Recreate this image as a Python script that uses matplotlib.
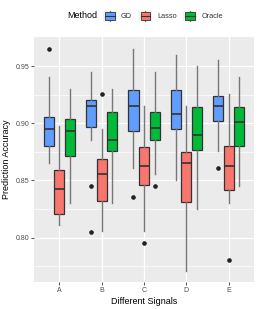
import numpy as np
import matplotlib; matplotlib.use("Agg")
import matplotlib.pyplot as plt
from matplotlib.patches import Rectangle
from matplotlib.lines import Line2D
from matplotlib.legend_handler import HandlerBase

plt.rcParams["font.family"] = ["Liberation Sans", "DejaVu Sans"]

signals = ["A", "B", "C", "D", "E"]
methods = ["GD", "Lasso", "Oracle"]
COLORS = {"GD": "#619CFF", "Lasso": "#F8766D", "Oracle": "#00BA38"}

# five-number summaries
gd_lo   = [0.8650, 0.8855, 0.8607, 0.8505, 0.8755]
gd_q1   = [0.8802, 0.8965, 0.8936, 0.8954, 0.9017]
gd_med  = [0.8954, 0.9155, 0.9155, 0.9082, 0.9155]
gd_q3   = [0.9052, 0.9205, 0.9292, 0.9292, 0.9242]
gd_hi   = [0.9402, 0.9452, 0.9650, 0.9600, 0.9554]
gd_out  = [[0.9653], [0.845, 0.805], [0.8353], [], [0.8607]]

la_lo   = [0.8106, 0.8053, 0.8053, 0.7704, 0.8304]
la_q1   = [0.8202, 0.8316, 0.8464, 0.8309, 0.8418]
la_med  = [0.8427, 0.8552, 0.8630, 0.8654, 0.8630]
la_q3   = [0.8593, 0.8689, 0.8790, 0.8753, 0.8802]
la_hi   = [0.8980, 0.8950, 0.9149, 0.9149, 0.9257]
la_out  = [[], [0.9257], [0.7955], [], [0.7806]]

or_lo   = [0.8304, 0.8304, 0.8558, 0.8252, 0.8455]
or_q1   = [0.8715, 0.8755, 0.8855, 0.8767, 0.8805]
or_med  = [0.8930, 0.8857, 0.8956, 0.8901, 0.9009]
or_q3   = [0.9038, 0.9102, 0.9102, 0.9140, 0.9140]
or_hi   = [0.9300, 0.9300, 0.9452, 0.9504, 0.9402]
or_out  = [[], [], [0.8453], [], []]

summary = {
    "GD":     (gd_lo, gd_q1, gd_med, gd_q3, gd_hi, gd_out),
    "Lasso":  (la_lo, la_q1, la_med, la_q3, la_hi, la_out),
    "Oracle": (or_lo, or_q1, or_med, or_q3, or_hi, or_out),
}

fig = plt.figure(figsize=(2.58, 3.09), dpi=100)
ax = fig.add_axes([34/258, 1-282.3/309, (254-34)/258, (282.3-36.7)/309])
ax.set_facecolor("#EBEBEB")
for s in ax.spines.values():
    s.set_visible(False)

x = np.arange(1, len(signals)+1)
offsets = {"GD": -0.25, "Lasso": 0.0, "Oracle": 0.25}
for m in methods:
    lo, q1, med, q3, hi, out = summary[m]
    stats = [dict(whislo=lo[i], q1=q1[i], med=med[i], q3=q3[i], whishi=hi[i],
                  fliers=out[i]) for i in range(len(signals))]
    ax.bxp(stats, positions=x + offsets[m], widths=0.24, patch_artist=True,
           showcaps=False,
           boxprops=dict(facecolor=COLORS[m], edgecolor="#333333", lw=0.9),
           medianprops=dict(color="#333333", lw=1.2),
           whiskerprops=dict(color="#777777", lw=1.0),
           flierprops=dict(marker="o", markersize=2.3, markerfacecolor="#222222",
                           markeredgecolor="#222222"),
           zorder=3)

ax.set_xlim(0.4, 5.6)
ax.set_ylim(0.7608, 0.9758)
ax.set_xticks(x)
ax.set_xticklabels(signals)
ax.set_yticks([0.80, 0.85, 0.90, 0.95])
ax.set_yticklabels(["0.80", "0.85", "0.90", "0.95"])
ax.set_yticks([0.775, 0.825, 0.875, 0.925], minor=True)
ax.grid(True, which="major", color="white", lw=0.9, zorder=0)
ax.grid(True, which="minor", axis="y", color="white", lw=0.45, zorder=0)
ax.set_axisbelow(True)
ax.tick_params(axis="both", which="major", length=2, width=0.6, color="#333333",
               labelsize=5, labelcolor="#4D4D4D", pad=1.5)
ax.tick_params(axis="both", which="minor", length=0)
ax.set_xlabel("Different Signals", fontsize=6.5, labelpad=2)
ax.set_ylabel("Prediction Accuracy", fontsize=6.5, labelpad=3)


class BoxKey(HandlerBase):
    def __init__(self, color):
        super().__init__()
        self.color = color

    def create_artists(self, legend, orig_handle, xdescent, ydescent,
                       width, height, fontsize, trans):
        x0, y0 = -xdescent, -ydescent
        bg = Rectangle((x0, y0), width, height, facecolor="#F2F2F2",
                       edgecolor="none", transform=trans)
        cx = x0 + width/2
        wl = Line2D([cx, cx], [y0 + 0.05*height, y0 + 0.95*height],
                    color="#777777", lw=0.9, transform=trans)
        box = Rectangle((x0 + 0.15*width, y0 + 0.17*height), 0.7*width, 0.66*height,
                        facecolor=self.color, edgecolor="#333333",
                        lw=0.6, transform=trans)
        md = Line2D([x0 + 0.15*width, x0 + 0.85*width], [y0 + height/2]*2,
                    color="#333333", lw=0.8, transform=trans)
        return [bg, wl, box, md]


handles = [Line2D([], [], label=m) for m in methods]
hmap = {h: BoxKey(COLORS[m]) for h, m in zip(handles, methods)}
fig.text(67/258, 1-16/309, "Method", fontsize=6.5, va="center", ha="left")
fig.legend(handles, methods, handler_map=hmap,
           loc="center left", bbox_to_anchor=(102.7/258, 1-16/309), ncol=3,
           frameon=False, fontsize=5.3, handlelength=1.9, handleheight=1.9,
           handletextpad=0.6, columnspacing=0.85, borderpad=0, borderaxespad=0,
           labelcolor="#333333")

fig.savefig("out.png", dpi=100)
